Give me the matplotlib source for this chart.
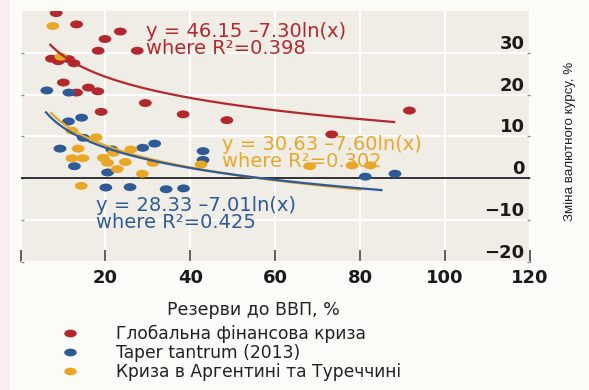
import numpy as np
import matplotlib
matplotlib.use("Agg")
import matplotlib.pyplot as plt
from matplotlib.path import Path
from matplotlib.patches import Rectangle
from matplotlib.lines import Line2D

# Reserves-to-GDP (%) vs. exchange-rate change (%) for three stress episodes
gfc_x = [8.4, 13.2, 23.5, 19.9, 18.3, 27.5, 7.3, 8.9, 11.3, 12.6, 10.1, 13.2,
         16.0, 18.2, 29.4, 19.0, 38.3, 48.6, 73.3, 91.6]
gfc_y = [39.5, 36.8, 35.1, 33.3, 30.5, 30.5, 28.6, 28.0, 28.5, 27.5, 22.9, 20.5,
         21.7, 20.8, 18.0, 15.9, 15.3, 13.9, 10.5, 16.2]

taper_x = [6.2, 11.4, 11.3, 14.4, 14.8, 9.3, 12.7, 21.5, 28.8, 31.6, 20.5, 20.1,
           25.8, 34.3, 38.4, 43.0, 43.0, 81.2, 88.2]
taper_y = [21.0, 20.5, 13.6, 14.5, 9.7, 7.1, 2.9, 6.9, 7.3, 8.3, 1.4, -2.2,
           -2.1, -2.6, -2.4, 6.5, 4.4, 0.4, 1.1]

argtur_x = [7.6, 9.5, 12.1, 17.8, 13.6, 12.1, 14.7, 19.5, 20.5, 21.9, 26.0, 24.7,
            22.8, 28.7, 31.2, 14.3, 42.5, 68.1, 78.1, 82.4]
argtur_y = [36.4, 29.1, 11.4, 9.8, 7.1, 4.8, 4.8, 4.9, 3.7, 6.1, 6.9, 3.9,
            2.2, 1.1, 3.7, -1.8, 3.3, 2.9, 3.1, 3.1]

# Logarithmic fits y = a + b*ln(x), with fitted range and R^2
gfc_fit = (46.15, -7.30, 7.0, 88.0, 0.398)
taper_fit = (28.33, -7.01, 6.0, 85.0, 0.425)
argtur_fit = (30.63, -7.60, 7.2, 80.0, 0.302)

series_names = ["Глобальна фінансова криза", "Taper tantrum (2013)",
                "Криза в Аргентині та Туреччині"]
x_ticks = [0, 20, 40, 60, 80, 100, 120]
x_tick_labels = ["", "20", "40", "60", "80", "100", "120"]
y_ticks = [-20, -10, 0, 10, 20, 30]
y_tick_labels = ["\u221220", "\u221210", "0", "10", "20", "30"]
x_title = "Резерви до ВВП, %"
y_title = "Зміна валютного курсу, %"

RED = "#b3282c"
BLUE = "#2e5b95"
YELLOW = "#e8a727"
PANEL = "#f0ede7"
FIG_BG = "#fbfbf7"

# slightly wide elliptical dot marker
circ = Path.unit_circle()
dot = Path(circ.vertices * np.array([1.0, 0.62]), circ.codes)

fig = plt.figure(figsize=(5.89, 3.90), dpi=100, facecolor=FIG_BG)
fig.patches.append(Rectangle((0, 0), 10 / 589, 1, transform=fig.transFigure,
                             facecolor="#f9edf0", edgecolor="none", zorder=-1))

ax = fig.add_axes([20.5 / 589, 1 - 262 / 390, (530 - 20.5) / 589, (262 - 11) / 390])
ax.set_facecolor(PANEL)
for s in ax.spines.values():
    s.set_visible(False)
ax.set_xlim(0, 120)
ax.set_ylim(-20, 40)

ax.set_xticks(x_ticks)
ax.set_xticklabels(x_tick_labels, fontsize=13, fontweight="bold",
                   family="DejaVu Sans", color="#1a1a1a")
ax.tick_params(axis="x", direction="in", length=9, width=1.2, color="#444444", pad=5)

# y labels sit just above their gridlines, inside the right edge of the panel
ax.set_yticks(y_ticks)
ax.set_yticklabels(y_tick_labels, fontsize=13, fontweight="bold",
                   family="DejaVu Sans", color="#1a1a1a")
ax.tick_params(axis="y", left=True, right=True, labelleft=False, labelright=True,
               direction="in", length=2, width=1, color="#888888", pad=-4)
for lab in ax.get_yticklabels():
    lab.set_horizontalalignment("right")
    lab.set_verticalalignment("bottom")

ax.grid(True, color="white", linewidth=1.6)
ax.set_axisbelow(True)
ax.axhline(0, color="#222222", linewidth=1.3, zorder=2)

for xs, ys, c in [(gfc_x, gfc_y, RED), (taper_x, taper_y, BLUE),
                  (argtur_x, argtur_y, YELLOW)]:
    ax.scatter(xs, ys, s=85, marker=dot, color=c, edgecolors="none", zorder=3)

for (a, b, x0, x1, r2), c in [(gfc_fit, RED), (argtur_fit, YELLOW), (taper_fit, BLUE)]:
    xx = np.linspace(x0, x1, 200)
    ax.plot(xx, a + b * np.log(xx), color=c, linewidth=1.6, zorder=4)

# fitted equations, two lines each
for (a, b, x0, x1, r2), c, (tx, ty) in [
        (gfc_fit, RED, (29.6, 33.1)),
        (argtur_fit, YELLOW, (47.4, 6.0)),
        (taper_fit, BLUE, (17.7, -8.6))]:
    ax.text(tx, ty, f"y = {a:.2f} \u2013{-b:.2f}ln(x)\nwhere R\u00b2={r2:.3f}",
            color=c, family="DejaVu Sans", fontsize=14, va="center", ha="left",
            linespacing=0.85, zorder=5)

fig.text(253 / 589, 1 - 310 / 390, x_title, ha="center", va="center",
         fontsize=12.5, family="DejaVu Sans", color="#222222")
fig.text(570 / 589, 1 - 141 / 390, y_title, rotation=90, ha="center", va="center",
         fontsize=9.6, family=["Liberation Sans Narrow", "Liberation Sans"],
         color="#222222")

handles = [Line2D([], [], linestyle="none", marker=dot, markersize=9,
                  markerfacecolor=c, markeredgecolor="none")
           for c in (RED, BLUE, YELLOW)]
fig.legend(handles, series_names, loc="upper left",
           bbox_to_anchor=(58 / 589, 1 - 325 / 390), frameon=False,
           prop=dict(family="DejaVu Sans", size=12.3), handlelength=1.4,
           handletextpad=2.0, labelspacing=0.05, borderpad=0, borderaxespad=0,
           labelcolor="#222222")

fig.savefig("out.png", dpi=100, facecolor=FIG_BG)
